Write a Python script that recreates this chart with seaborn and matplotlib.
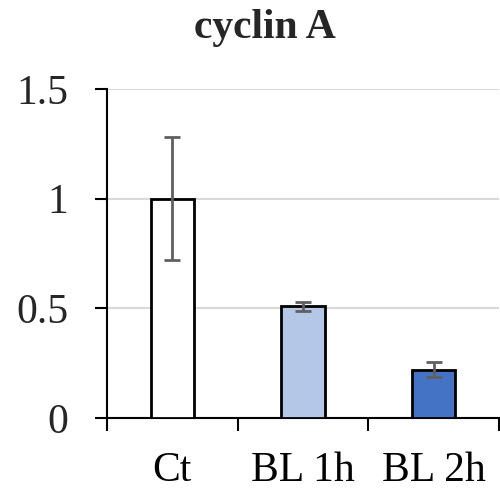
import numpy as np
import matplotlib
matplotlib.use("Agg")
import matplotlib.pyplot as plt
import seaborn as sns
import pandas as pd
from matplotlib.ticker import FixedLocator

categories = ["Ct", "BL 1h", "BL 2h"]
values = [1.0, 0.51, 0.22]
errors = [0.28, 0.02, 0.035]
colors = ["#ffffff", "#b4c7e7", "#4472c4"]
title = "cyclin A"

sns.set_theme(style="white")
plt.rcParams['font.family'] = ['Liberation Serif', 'DejaVu Serif']

fig = plt.figure(figsize=(5.0, 4.91), dpi=100)
ax = fig.add_axes([0.214, 0.1487, 0.784, 0.67])

df = pd.DataFrame({"cat": categories, "val": values})
sns.barplot(data=df, x="cat", y="val", hue="cat", palette=colors, order=categories,
            hue_order=categories, width=0.33, edgecolor="black", linewidth=2,
            saturation=1, legend=False, ax=ax, zorder=3)
ax.errorbar(np.arange(len(categories)), values, yerr=errors, fmt="none",
            ecolor="#5f5f5f", elinewidth=2, capsize=6, capthick=2, zorder=4)

ax.set_xlim(-0.5, 2.5)
ax.set_ylim(0, 1.5)
ax.set_yticks([0, 0.5, 1, 1.5])
ax.set_yticklabels(["0", "0.5", "1", "1.5"])
ax.yaxis.grid(True, color="#d9d9d9", linewidth=1.5, zorder=0)
ax.xaxis.grid(False)
ax.set_axisbelow(True)

for s in ["top", "right"]:
    ax.spines[s].set_visible(False)
for s in ["left", "bottom"]:
    ax.spines[s].set_color("black")
    ax.spines[s].set_linewidth(1.5)

ax.tick_params(axis="x", which="major", length=0, pad=24, labelsize=30, colors="black")
ax.xaxis.set_minor_locator(FixedLocator([-0.5, 0.5, 1.5, 2.5]))
ax.tick_params(axis="x", which="minor", direction="out", length=9, width=1.5, color="black", bottom=True)
ax.tick_params(axis="y", which="major", direction="out", length=9, width=1.5, pad=19,
               labelsize=30, color="black", left=True)
ax.set_xlabel("")
ax.set_ylabel("")

fig.text(0.53, 0.942, title, ha="center", va="center", fontsize=30, fontweight="bold")

fig.savefig("out.png", dpi=100)
